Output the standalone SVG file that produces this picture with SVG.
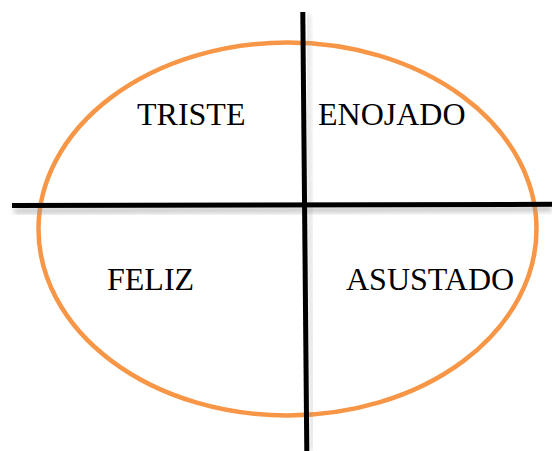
<svg xmlns="http://www.w3.org/2000/svg" width="552" height="451" viewBox="0 0 552 451">
<style>
.lbl{font-family:"Liberation Serif","Times New Roman",serif;font-size:32px;fill:#000}
.axis{stroke:#000;stroke-width:5;fill:none}
</style>
<defs>
<filter id="sh" x="-10%" y="-200%" width="120%" height="500%"><feGaussianBlur stdDeviation="2.5"/></filter>
</defs>
<rect width="552" height="451" fill="#fff"/>
<g id="circle">
<ellipse cx="287.5" cy="229" rx="249" ry="186.5" fill="none" stroke="#F79646" stroke-width="4.5"/>
</g>
<g id="connectors">
<line x1="14" y1="211" x2="552" y2="209" stroke="#999" stroke-width="5" opacity="0.6" filter="url(#sh)"/>
<line x1="308" y1="14" x2="312" y2="451" stroke="#999" stroke-width="4" opacity="0.35" filter="url(#sh)"/>
<line class="axis" x1="12" y1="205.5" x2="552" y2="204.3"/>
<line class="axis" x1="302.8" y1="12" x2="306.8" y2="451"/>
</g>
<g id="triste"><text class="lbl" x="137" y="125">TRISTE</text></g>
<g id="enojado"><text class="lbl" x="318" y="125">ENOJADO</text></g>
<g id="feliz"><text class="lbl" x="107" y="290">FELIZ</text></g>
<g id="asustado"><text class="lbl" x="346" y="290">ASUSTADO</text></g>
</svg>
